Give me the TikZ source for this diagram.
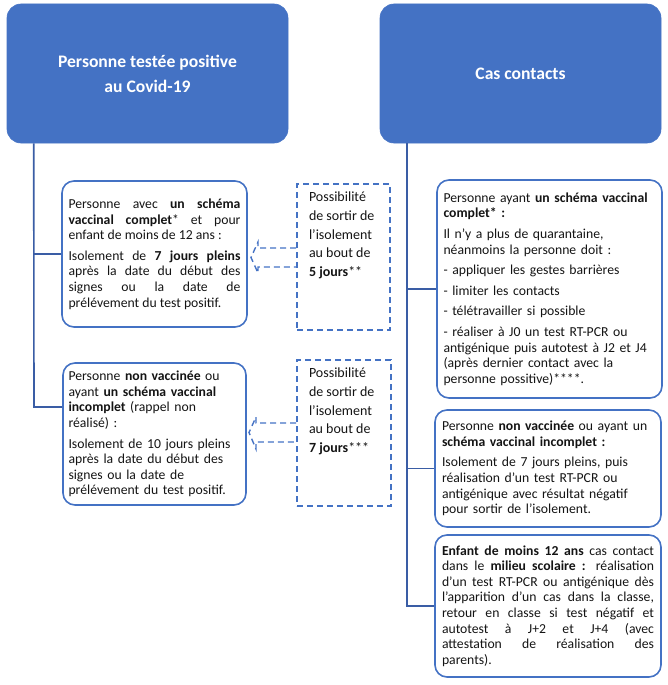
\documentclass[tikz,border=0pt]{standalone}
\usepackage{fontspec}
\setmainfont{Carlito}
\usetikzlibrary{calc}
\definecolor{hdr}{HTML}{4472C4}
\definecolor{lnk}{HTML}{3A5DA5}
\definecolor{txt}{HTML}{141414}
\newcommand\pgap{\par\vspace{5pt}}
\newcommand\topbox[3]{\parbox[c][#1][t]{#2}{\raggedright #3}}
\begin{document}
\begin{tikzpicture}[x=1pt,y=-1pt,
  header/.style={draw=hdr, fill=hdr, rounded corners=14pt, text=white,
    font=\fontsize{17.6}{25}\selectfont\bfseries, align=center,
    minimum width=281pt, minimum height=139pt, line width=0.6pt},
  infobox/.style={draw=hdr, line width=1.6pt, rounded corners=12pt, text=txt,
    font=\fontsize{13.7}{15.6}\selectfont, inner sep=0pt},
  dbox/.style={draw=hdr, line width=1.6pt, dash pattern=on 6pt off 4pt, text=txt,
    font=\fontsize{14}{18.7}\selectfont, inner ysep=8pt, inner xsep=0pt},
  link/.style={draw=lnk, line width=1.6pt},
  darrow/.style={draw=hdr, line width=1.4pt, dash pattern=on 6pt off 4pt}
]
\useasboundingbox (0,0) rectangle (667,685);

% headers
\node[header] (hl) at (147.5,73.5) {Personne testée positive\\au Covid-19};
\node[header] (hr) at (520.5,73.5) {Cas contacts};

% left boxes
\node[infobox, minimum width=185pt, minimum height=146pt, text width=172pt, align=justify] (l1) at (154.5,254)
 {Personne avec \textbf{un schéma}\linebreak \textbf{vaccinal complet}* et pour\linebreak enfant de moins de 12 ans :\pgap
  Isolement de \textbf{7 jours pleins}\linebreak après la date du début des\linebreak signes ou la date de\linebreak prélévement du test positif.};
\node[infobox, minimum width=183pt, minimum height=142pt, text width=172pt, align=left] (l2) at (154.5,434)
 {Personne \textbf{non vaccinée} ou\\ ayant \textbf{un schéma vaccinal}\\ \textbf{incomplet} (rappel non\\ réalisé) :\\[5pt]
  Isolement de 10 jours pleins\\ après la date du début des\\ signes ou la date de\\ prélévement du test positif.};

% dashed boxes
\node[dbox, minimum width=93pt, minimum height=146pt] (d1) at (343.5,257)
 {\topbox{130pt}{69pt}{Possibilité\\ de sortir de\\ l’isolement\\ au bout de\\ \textbf{5 jours}**}};
\node[dbox, minimum width=94pt, minimum height=146pt] (d2) at (344,433)
 {\topbox{130pt}{70pt}{Possibilité\\ de sortir de\\ l’isolement\\ au bout de\\ \textbf{7 jours}***}};

% right boxes
\node[infobox, minimum width=225pt, minimum height=218pt, text width=212pt, align=left] (ra) at (549.5,289)
 {Personne ayant \textbf{un schéma vaccinal}\\ \textbf{complet* :}\\[5pt]
  Il n'y a plus de quarantaine,\\ néanmoins la personne doit :\\[5pt]
  - appliquer les gestes barrières\\[5pt]
  - limiter les contacts\\[5pt]
  - télétravailler si possible\\[5pt]
  - réaliser à J0 un test RT-PCR ou\\ antigénique puis autotest à J2 et J4\\ (après dernier contact avec la\\ personne possitive)****.};
\node[infobox, minimum width=226pt, minimum height=117pt, text width=212pt, align=left] (rb) at (548,468.5)
 {Personne \textbf{non vaccinée} ou ayant un\\ \textbf{schéma vaccinal incomplet :}\\[5pt]
  Isolement de 7 jours pleins, puis\\ réalisation d'un test RT-PCR ou\\ antigénique avec résultat négatif\\ pour sortir de l'isolement.};
\node[infobox, minimum width=226pt, minimum height=142pt, text width=212pt, align=justify] (rc) at (548,606)
 {\textbf{Enfant de moins 12 ans} cas contact\linebreak dans le \textbf{milieu scolaire :} réalisation\linebreak d’un test RT-PCR ou antigénique dès\linebreak l’apparition d’un cas dans la classe,\linebreak retour en classe si test négatif et\linebreak autotest à J+2 et J+4 (avec\linebreak attestation de réalisation des\linebreak parents).};

% left trunk
\coordinate (lt) at ($(hl.south west)+(27,0)$);
\coordinate (lj2) at (34,407);
\draw[link] (lt) -- (lj2) -- (lj2 -| l2.west);
\draw[link] (lt |- l1.west) -- (l1.west);

% right trunk
\coordinate (rt) at ($(hr.south west)+(27,0)$);
\draw[link] (rt) |- (rc.west);
\draw[link] (rt |- ra.west) -- (ra.west);
\draw[link] (rt |- rb.west) -- (rb.west);

% dashed block arrows
\draw[darrow] (d1.west |- 0,248) -- (258,248) -- (258,242) -- (251,257.5) -- (258,273) -- (258,267) -- (d1.west |- 0,267);
\draw[darrow] (d2.west |- 0,423) -- (256,423) -- (256,417) -- (249,432.5) -- (256,449) -- (256,442) -- (d2.west |- 0,442);
\end{tikzpicture}
\end{document}
